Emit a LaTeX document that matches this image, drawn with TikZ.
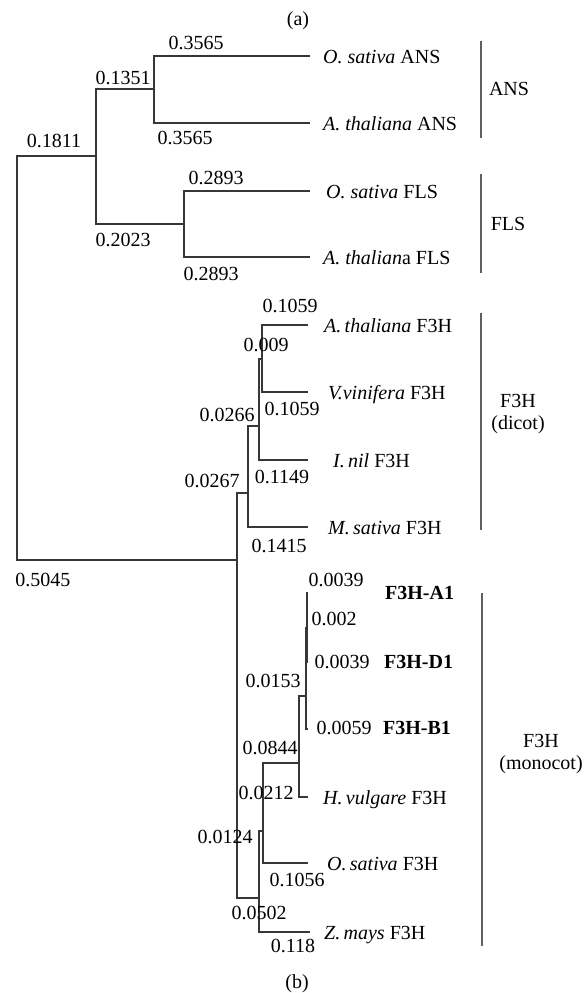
\documentclass[tikz,border=0pt]{standalone}
\usepackage{fontspec}
\setmainfont{Liberation Serif}
\usetikzlibrary{positioning,calc}
\definecolor{treeGray}{RGB}{55,55,55}
\definecolor{barGray}{RGB}{95,95,95}

\begin{document}
\begin{tikzpicture}[x=1pt,y=-1pt,
    branch/.style={treeGray,line width=1.2pt},
    cladebar/.style={barGray,line width=1.8pt},
    lenlabel/.style={font=\fontsize{20}{22}\selectfont,inner sep=0pt,text height=14pt,text depth=0pt},
    leaf/.style={font=\fontsize{20}{22}\selectfont,anchor=west,inner sep=0pt,text height=14pt,text depth=0pt},
    clade/.style={font=\fontsize{20}{22}\selectfont,align=center,inner sep=0pt}]
    \useasboundingbox (0,0) rectangle (587,993);

    \node[lenlabel] (capa) at (298,18) {(a)};
    \node[lenlabel] (capb) at (297,981) {(b)};

    % Inner nodes of the tree
    \coordinate (r) at (17,358);
    \coordinate (n1) at (96,156);
    \coordinate (nANS) at (154,89);
    \coordinate (nFLS) at (184,224);
    \coordinate (n2) at (237,560);
    \coordinate (ndic) at (248,493);
    \coordinate (nd2) at (259,426);
    \coordinate (nd3) at (262,359);
    \coordinate (nmon) at (259,898);
    \coordinate (nm2) at (263,831);
    \coordinate (nm3) at (299,763);
    \coordinate (nm4) at (306,696);
    \coordinate (nm5) at (307,628);

    % Leaf ends
    \coordinate (osANS) at (310,56);
    \coordinate (atANS) at (310,123);
    \coordinate (osFLS) at (310,191);
    \coordinate (atFLS) at (310,257);
    \coordinate (atF3H) at (308,325);
    \coordinate (vvF3H) at (308,392);
    \coordinate (inF3H) at (308,460);
    \coordinate (msF3H) at (308,527);
    \coordinate (a1) at (307.6,593);
    \coordinate (d1) at (307.6,662);
    \coordinate (b1) at (308,729);
    \coordinate (hvF3H) at (308,797);
    \coordinate (osF3H) at (308,863);
    \coordinate (zmF3H) at (310,932);

    % Branches
    \foreach \p/\c in {r/n1,r/n2,n1/nANS,n1/nFLS,nANS/osANS,nANS/atANS,nFLS/osFLS,nFLS/atFLS,
        n2/ndic,n2/nmon,ndic/nd2,ndic/msF3H,nd2/nd3,nd2/inF3H,nd3/atF3H,nd3/vvF3H,
        nmon/nm2,nmon/zmF3H,nm2/nm3,nm2/osF3H,nm3/nm4,nm3/hvF3H,nm4/nm5,nm4/b1,nm5/a1,nm5/d1}
        \draw[branch] (\p) |- (\c);

    % Branch lengths
    \foreach \lx/\ly/\lt [count=\i] in {54/140/0.1811,123/77/0.1351,196/42/0.3565,185/137/0.3565,
        123/239/0.2023,216/177/0.2893,211/273/0.2893,290/305/0.1059,266/344/0.009,227/414/0.0266,
        292/408/0.1059,282/476/0.1149,212/480/0.0267,279/545/0.1415,43/579/0.5045,336/579/0.0039,
        334/618/0.002,342/661/0.0039,273/680/0.0153,344/727/0.0059,270/747/0.0844,266/792/0.0212,
        225/836/0.0124,297/879/0.1056,259/912/0.0502,293/945/0.118}
        \node[lenlabel] (len\i) at (\lx,\ly) {\lt};

    % Taxa
    \node[leaf] (tosANS) at (323,56) {\textit{O. sativa} ANS};
    \node[leaf] (tatANS) at (323,123) {\textit{A. thaliana} ANS};
    \node[leaf] (tosFLS) at (326,191) {\textit{O. sativa} FLS};
    \node[leaf] (tatFLS) at (323,257) {\textit{A. thalian}a FLS};
    \node[leaf] (tatF3H) at (324,325) {\textit{A.\,thaliana} F3H};
    \node[leaf] (tvvF3H) at (328,392) {\textit{V.vinifera} F3H};
    \node[leaf] (tinF3H) at (333,460) {\textit{I.\,nil} F3H};
    \node[leaf] (tmsF3H) at (328,527) {\textit{M.\,sativa} F3H};
    \node[leaf] (ta1) at (385,592) {\textbf{F3H-A1}};
    \node[leaf] (td1) at (384,661) {\textbf{F3H-D1}};
    \node[leaf] (tb1) at (383,727) {\textbf{F3H-B1}};
    \node[leaf] (thvF3H) at (323,797) {\textit{H.\,vulgare} F3H};
    \node[leaf] (tosF3H) at (327,863) {\textit{O.\,sativa} F3H};
    \node[leaf] (tzmF3H) at (324,932) {\textit{Z.\,mays} F3H};

    % Clade bars
    \draw[cladebar] (481,41) -- (481,138);
    \draw[cladebar] (481,174) -- (481,273);
    \draw[cladebar] (481,313) -- (481,530);
    \draw[cladebar] (482,593) -- (482,946);
    \node[clade] (cANS) at (509,89) {ANS};
    \node[clade] (cFLS) at (508,224) {FLS};
    \node[clade] (cdic) at (518,414) {F3H\\(dicot)};
    \node[clade] (cmon) at (541,754) {F3H\\(monocot)};
\end{tikzpicture}
\end{document}
